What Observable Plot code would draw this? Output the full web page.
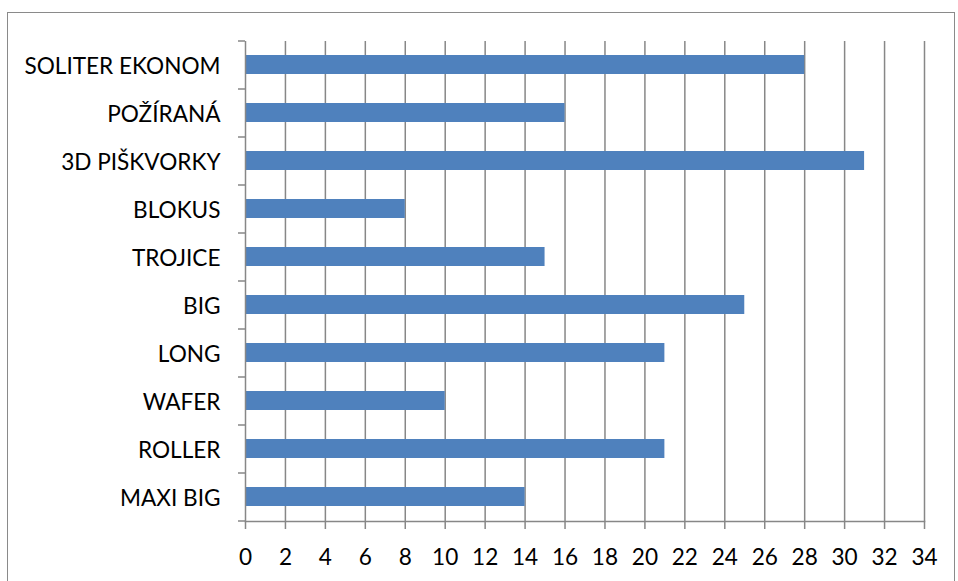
<!DOCTYPE html>
<html><head><meta charset="utf-8">
<script src="https://cdn.jsdelivr.net/npm/d3@7"></script>
<script src="https://cdn.jsdelivr.net/npm/@observablehq/plot@0.6"></script>
<style>
body{margin:0;background:#fff;}
#wrap{position:relative;width:958px;height:581px;overflow:hidden;}
#border{position:absolute;left:7px;top:12px;width:946px;height:600px;border:1.5px solid #8a8a8a;}
#chart{position:absolute;left:0;top:0;}
</style></head><body>
<div id="wrap"><div id="border"></div><div id="chart"></div></div>
<script>
const categories = ["SOLITER EKONOM","POŽÍRANÁ","3D PIŠKVORKY","BLOKUS","TROJICE","BIG","LONG","WAFER","ROLLER","MAXI BIG"];
const values = [28,16,31,8,15,25,21,10,21,14];
const xTicks = [0,2,4,6,8,10,12,14,16,18,20,22,24,26,28,30,32,34];

const data = categories.map((c,i)=>({category:c, value:values[i]}));
const gray = "#878787";
const plot = Plot.plot({
  width:958, height:581, marginLeft:245, marginRight:34, marginTop:41, marginBottom:60,
  style:{fontFamily:"Lato", fontSize:"22.6px", color:"#000", background:"transparent", overflow:"visible"},
  x:{domain:[0,34], ticks:xTicks},
  y:{domain:categories, paddingInner:0.6, paddingOuter:0.3},
  marks:[
    Plot.ruleX(xTicks.slice(1), {stroke:gray, strokeWidth:1.5}),
    Plot.barX(data, {x:"value", y:"category", fill:"#4F81BD"}),
    Plot.ruleX([0], {stroke:gray, strokeWidth:1.5}),
    Plot.frame({anchor:"bottom", stroke:gray, strokeWidth:1.5}),
    Plot.axisX(xTicks, {tickSize:8, tickPadding:19, stroke:gray, strokeWidth:1.5, label:null}),
    Plot.axisY({tickSize:0, tickPadding:25, dy:2, label:null}),
    Plot.axisY({tickSize:7, dy:-24, tickFormat:()=>"", stroke:gray, strokeWidth:1.5, label:null}),
    Plot.axisY([categories[categories.length-1]], {tickSize:7, dy:24, tickFormat:()=>"", stroke:gray, strokeWidth:1.5, label:null})
  ]
});
document.getElementById("chart").appendChild(plot);
</script>
</body></html>
